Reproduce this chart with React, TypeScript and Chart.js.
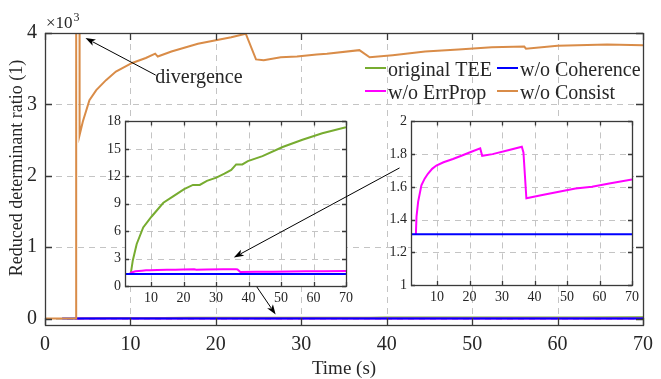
import { useEffect, useRef } from 'react';
import { Chart, registerables } from 'chart.js';
Chart.register(...registerables);

// ---------- data ----------
const teeTime = [3.8, 4.4, 5.6, 7.6, 10.2, 13.8, 16.8, 20.2, 22.9, 25.0, 27.2, 30.1, 32.6, 34.7, 36.2, 38.1, 39.8, 44.3, 50.5, 56.6, 62.7, 70.0];
const teeValues = [1.4, 2.8, 4.6, 6.4, 7.6, 9.1, 9.8, 10.6, 11.05, 11.05, 11.5, 11.85, 12.3, 12.7, 13.3, 13.3, 13.65, 14.2, 15.2, 16.0, 16.7, 17.35];

const errPropTime = [3.5, 3.7, 4.2, 5.2, 6.2, 7.2, 8.5, 9.8, 12.0, 14.9, 17.5, 20.0, 23.3, 23.9, 27.1, 32.2, 36.1, 36.6, 37.5, 42.4, 47.5, 52.6, 57.7, 63.0, 70.0];
const errPropValues = [1.31, 1.42, 1.51, 1.61, 1.65, 1.68, 1.71, 1.73, 1.75, 1.77, 1.79, 1.81, 1.835, 1.79, 1.8, 1.825, 1.845, 1.81, 1.53, 1.55, 1.57, 1.59, 1.6, 1.62, 1.645];

const coherenceTime = [2.0, 70.0];
const coherenceValues = [1.31, 1.31];

const consistTime = [0, 3.64, 3.65, 3.98, 4.05, 4.43, 5.2, 6.0, 7.14, 8.3, 10.2, 11.8, 12.9, 13.2, 14.8, 17.9, 21.8, 23.5, 24.7, 25.6, 27.6, 29.5, 31.8, 33.0, 36.8, 38.0, 40.7, 44.5, 48.4, 52.3, 56.1, 56.3, 60.0, 65.8, 70.0];
const consistValues = [0, 0, 20000, 20000, 2570, 2760, 3060, 3200, 3340, 3460, 3580, 3650, 3710, 3670, 3740, 3850, 3940, 3990, 3630, 3620, 3660, 3670, 3700, 3710, 3760, 3660, 3690, 3740, 3770, 3800, 3810, 3780, 3820, 3840, 3830];

const seriesLabels = ['original TEE', 'w/o Coherence', 'w/o ErrProp', 'w/o Consist'];
const seriesColors = ['#77AC30', '#0000FF', '#FF00FF', '#D98C48'];

const mainXTicks = [0, 10, 20, 30, 40, 50, 60, 70];
const mainYTicks = [0, 1000, 2000, 3000, 4000];
const insetXTicks = [10, 20, 30, 40, 50, 60, 70];
const inset1YTicks = [0, 3, 6, 9, 12, 15, 18];
const inset2YTicks = [1, 1.2, 1.4, 1.6, 1.8, 2];

// annotation anchors in main-axes data coordinates [time, value]
const divergenceArrow = [[12.96, 3410], [4.74, 3930]];
const divergenceLabel = [12.9, 3300];
const zoomArrow = [[41.5, 2110], [22.1, 855]];
const baseArrow = [[24.8, 443], [27.0, 56]];

// ---------- helpers ----------
const FONT = "'Liberation Serif', 'Times New Roman', serif";
const TEXT = '#262626';

const pts = (t: number[], v: number[]) => t.map((x, i) => ({ x, y: v[i] }));

function line(label: string, color: string, data: any[]) {
  return { label, data, borderColor: color, backgroundColor: color, borderWidth: 2, pointRadius: 0, fill: false, tension: 0 };
}

function framePlugin(tickLen: number) {
  return {
    id: 'frameGrid',
    beforeDraw(chart: any) {
      const { ctx, chartArea: a } = chart;
      ctx.save();
      ctx.fillStyle = '#ffffff';
      ctx.fillRect(a.left, a.top, a.right - a.left, a.bottom - a.top);
      ctx.restore();
    },
    beforeDatasetsDraw(chart: any) {
      const { ctx, chartArea: a, scales } = chart;
      ctx.save();
      ctx.strokeStyle = '#c4c4c4';
      ctx.lineWidth = 1;
      ctx.setLineDash([6, 5]);
      for (const t of scales.x.ticks) {
        const p = Math.round(scales.x.getPixelForValue(t.value)) + 0.5;
        ctx.beginPath(); ctx.moveTo(p, a.top); ctx.lineTo(p, a.bottom); ctx.stroke();
      }
      for (const t of scales.y.ticks) {
        const p = Math.round(scales.y.getPixelForValue(t.value)) + 0.5;
        ctx.beginPath(); ctx.moveTo(a.left, p); ctx.lineTo(a.right, p); ctx.stroke();
      }
      ctx.restore();
    },
    afterDatasetsDraw(chart: any) {
      const { ctx, chartArea: a, scales } = chart;
      ctx.save();
      ctx.strokeStyle = '#3a3a3a';
      ctx.lineWidth = 1.3;
      ctx.setLineDash([]);
      for (const t of scales.x.ticks) {
        const p = Math.round(scales.x.getPixelForValue(t.value)) + 0.5;
        ctx.beginPath();
        ctx.moveTo(p, a.bottom); ctx.lineTo(p, a.bottom - tickLen);
        ctx.moveTo(p, a.top); ctx.lineTo(p, a.top + tickLen);
        ctx.stroke();
      }
      for (const t of scales.y.ticks) {
        const p = Math.round(scales.y.getPixelForValue(t.value)) + 0.5;
        ctx.beginPath();
        ctx.moveTo(a.left, p); ctx.lineTo(a.left + tickLen, p);
        ctx.moveTo(a.right, p); ctx.lineTo(a.right - tickLen, p);
        ctx.stroke();
      }
      ctx.strokeRect(Math.round(a.left) + 0.5, Math.round(a.top) + 0.5, Math.round(a.right - a.left), Math.round(a.bottom - a.top));
      ctx.restore();
    },
  };
}

const mainTextPlugin = {
  id: 'mainText',
  afterDraw(chart: any) {
    const { ctx, chartArea: a } = chart;
    ctx.save();
    ctx.fillStyle = TEXT;
    // exponent label
    ctx.textBaseline = 'alphabetic';
    ctx.textAlign = 'left';
    ctx.font = `17px ${FONT}`;
    ctx.fillText('\u00d710', a.left + 1, 28);
    const w = ctx.measureText('\u00d710').width;
    ctx.font = `12px ${FONT}`;
    ctx.fillText('3', a.left + 1 + w + 1, 21);
    // axis titles
    ctx.font = `19px ${FONT}`;
    ctx.textAlign = 'center';
    ctx.textBaseline = 'middle';
    ctx.fillText('Time (s)', (a.left + a.right) / 2, 369);
    ctx.save();
    ctx.translate(17, 168);
    ctx.rotate(-Math.PI / 2);
    ctx.font = `18px ${FONT}`;
    ctx.fillText('Reduced determinant ratio (1)', 0, 0);
    ctx.restore();
    // legend
    const cols = [365, 497];
    const rows = [68, 91];
    ctx.font = `20px ${FONT}`;
    ctx.textAlign = 'left';
    ctx.textBaseline = 'alphabetic';
    seriesLabels.forEach((lab, i) => {
      const cx = cols[i % 2];
      const ry = rows[Math.floor(i / 2)];
      ctx.strokeStyle = seriesColors[i];
      ctx.lineWidth = 2;
      ctx.beginPath(); ctx.moveTo(cx, ry); ctx.lineTo(cx + 21, ry); ctx.stroke();
      ctx.fillStyle = TEXT;
      ctx.fillText(lab, cx + 23, ry + 8);
    });
    // divergence annotation
    const sx = chart.scales.x, sy = chart.scales.y;
    ctx.font = `20px ${FONT}`;
    ctx.fillText('divergence', sx.getPixelForValue(divergenceLabel[0]), sy.getPixelForValue(divergenceLabel[1]));
    ctx.restore();
  },
};

function drawArrow(ctx: CanvasRenderingContext2D, x1: number, y1: number, x2: number, y2: number) {
  const ang = Math.atan2(y2 - y1, x2 - x1);
  const len = 10, hw = 3.5;
  ctx.save();
  ctx.strokeStyle = '#000';
  ctx.fillStyle = '#000';
  ctx.lineWidth = 1;
  ctx.beginPath();
  ctx.moveTo(x1, y1);
  ctx.lineTo(x2 - Math.cos(ang) * len * 0.8, y2 - Math.sin(ang) * len * 0.8);
  ctx.stroke();
  const bx = x2 - Math.cos(ang) * len, by = y2 - Math.sin(ang) * len;
  const nx = -Math.sin(ang) * hw, ny = Math.cos(ang) * hw;
  ctx.beginPath();
  ctx.moveTo(x2, y2);
  ctx.lineTo(bx + nx, by + ny);
  ctx.lineTo(x2 - Math.cos(ang) * len * 0.75, y2 - Math.sin(ang) * len * 0.75);
  ctx.lineTo(bx - nx, by - ny);
  ctx.closePath();
  ctx.fill();
  ctx.restore();
}

function makeChart(canvas: HTMLCanvasElement, datasets: any[], o: any) {
  return new Chart(canvas, {
    type: 'line',
    data: { datasets },
    options: {
      responsive: false,
      animation: false,
      events: [],
      layout: { padding: o.padding },
      plugins: { legend: { display: false }, tooltip: { enabled: false }, title: { display: false } },
      scales: {
        x: {
          type: 'linear', min: o.xMin, max: o.xMax,
          grid: { display: false, drawTicks: false },
          border: { display: false },
          afterBuildTicks: (s: any) => { s.ticks = o.xTicks.map((v: number) => ({ value: v })); },
          afterFit: (s: any) => { s.height = o.xHeight; },
          ticks: { padding: o.xPad, color: TEXT, font: { family: FONT, size: o.fontSize }, maxRotation: 0, autoSkip: false, callback: o.xFmt },
        },
        y: {
          type: 'linear', min: o.yMin, max: o.yMax,
          grid: { display: false, drawTicks: false },
          border: { display: false },
          afterBuildTicks: (s: any) => { s.ticks = o.yTicks.map((v: number) => ({ value: v })); },
          afterFit: (s: any) => { s.width = o.yWidth; },
          ticks: { padding: o.yPad, color: TEXT, font: { family: FONT, size: o.fontSize }, autoSkip: false, callback: o.yFmt },
        },
      },
    },
    plugins: o.plugins,
  } as any);
}

export default function App() {
  const mainRef = useRef<HTMLCanvasElement>(null);
  const in1Ref = useRef<HTMLCanvasElement>(null);
  const in2Ref = useRef<HTMLCanvasElement>(null);
  const overRef = useRef<HTMLCanvasElement>(null);

  useEffect(() => {
    const tee = pts(teeTime, teeValues);
    const err = pts(errPropTime, errPropValues);
    const coh = pts(coherenceTime, coherenceValues);
    const con = pts(consistTime, consistValues);

    // Chart.js paints the first dataset on top, so the list runs top -> bottom
    const main = makeChart(mainRef.current!, [
      line(seriesLabels[3], seriesColors[3], con),
      line(seriesLabels[1], seriesColors[1], coh),
      line(seriesLabels[2], seriesColors[2], err),
      line(seriesLabels[0], seriesColors[0], tee),
    ], {
      padding: { top: 33, right: 11, left: 0, bottom: 0 },
      xMin: 0, xMax: 70, yMin: -90, yMax: 4000,
      xTicks: mainXTicks, yTicks: mainYTicks,
      xHeight: 54, yWidth: 45, xPad: 8, yPad: 8, fontSize: 20,
      xFmt: (v: number) => String(v), yFmt: (v: number) => String(v / 1000),
      plugins: [framePlugin(7), mainTextPlugin],
    });

    const in1 = makeChart(in1Ref.current!, [
      line(seriesLabels[1], seriesColors[1], coh),
      line(seriesLabels[2], seriesColors[2], err),
      line(seriesLabels[0], seriesColors[0], tee),
    ], {
      padding: { top: 10, right: 12, left: 0, bottom: 0 },
      xMin: 2, xMax: 70, yMin: 0, yMax: 18,
      xTicks: insetXTicks, yTicks: inset1YTicks,
      xHeight: 24, yWidth: 40, xPad: 4, yPad: 4, fontSize: 14,
      xFmt: (v: number) => String(v), yFmt: (v: number) => String(v),
      plugins: [framePlugin(4)],
    });

    const in2 = makeChart(in2Ref.current!, [
      line(seriesLabels[1], seriesColors[1], coh),
      line(seriesLabels[2], seriesColors[2], err),
    ], {
      padding: { top: 10, right: 12, left: 0, bottom: 0 },
      xMin: 2, xMax: 70, yMin: 1, yMax: 2,
      xTicks: insetXTicks, yTicks: inset2YTicks,
      xHeight: 24, yWidth: 40, xPad: 4, yPad: 4, fontSize: 14,
      xFmt: (v: number) => String(v), yFmt: (v: number) => String(v),
      plugins: [framePlugin(4)],
    });

    // arrows on overlay, positioned with the main axes' scales
    const oc = overRef.current!;
    const ctx = oc.getContext('2d')!;
    ctx.clearRect(0, 0, oc.width, oc.height);
    const sx = main.scales.x, sy = main.scales.y;
    for (const ar of [divergenceArrow, zoomArrow, baseArrow]) {
      drawArrow(ctx, sx.getPixelForValue(ar[0][0]), sy.getPixelForValue(ar[0][1]), sx.getPixelForValue(ar[1][0]), sy.getPixelForValue(ar[1][1]));
    }

    return () => { main.destroy(); in1.destroy(); in2.destroy(); };
  }, []);

  const abs = (l: number, t: number, w: number, h: number): any => ({ position: 'absolute', left: l, top: t, width: w, height: h });
  return (
    <div style={{ position: 'fixed', left: 0, top: 0, width: 661, height: 379, background: '#fff', overflow: 'hidden' }}>
      <canvas ref={mainRef} width={661} height={379} style={abs(0, 0, 661, 379)} />
      <canvas ref={in1Ref} width={273} height={201} style={abs(85, 109, 273, 201)} />
      <canvas ref={in2Ref} width={273} height={200} style={abs(371, 109, 273, 200)} />
      <canvas ref={overRef} width={661} height={379} style={{ ...abs(0, 0, 661, 379), pointerEvents: 'none' }} />
    </div>
  );
}
